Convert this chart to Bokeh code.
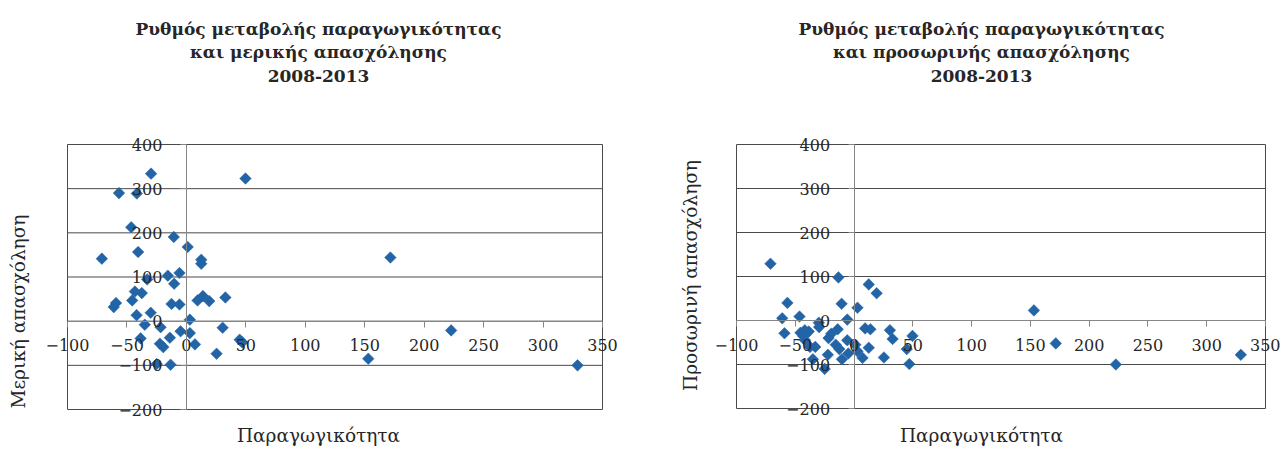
import numpy as np
from bokeh.plotting import figure
from bokeh.models import Range1d, SingleIntervalTicker, Label
from bokeh.layouts import row
from bokeh.embed import file_html
from bokeh.resources import INLINE

# Productivity change (x, shared by both charts)
productivity = [-71.1, -61.1, -59.2, -56.7, -46.4, -45.6, -43.3, -41.9, -41.7, -40.6,
                -38.5, -37.5, -35.0, -33.0, -30.0, -29.7, -25.0, -22.3, -21.7, -19.4,
                -15.6, -13.9, -13.3, -12.5, -10.6, -10.3, -5.8, -5.8, -4.9, 1.1,
                2.9, 2.9, 7.2, 9.4, 12.5, 12.5, 13.9, 19.2, 25.4, 30.5,
                32.8, 44.8, 47.0, 49.7, 153.0, 171.6, 222.7, 329.0]
# Part-time employment change (left chart)
part_time = [141.5, 31.8, 41.0, 290.0, 212.6, 47.0, 67.0, 13.6, 289.0, 156.6,
             -39.0, 63.5, -8.0, 94.5, 19.0, 334.0, -97.0, -51.0, -13.6, -58.7,
             103.0, -37.4, -98.6, 39.0, 190.6, 84.7, 109.0, 37.8, -23.0, 168.0,
             3.4, -27.0, -52.6, 47.0, 139.0, 130.0, 56.7, 45.4, -73.7, -14.8,
             53.7, -42.0, -48.0, 323.0, -85.0, 144.0, -20.9, -100.0]
# Temporary employment change (right chart)
temporary = [129.0, 5.0, -29.0, 40.0, 9.0, -28.0, -35.0, -22.0, -45.0, -30.0,
             -25.0, -60.0, -88.0, -60.0, -5.0, -15.0, -110.0, -78.0, -40.0, -30.0,
             -55.0, -20.0, 98.0, -65.0, 38.0, -88.0, 2.0, -45.0, -75.0, -55.0,
             29.0, -70.0, -85.0, -18.0, 82.0, -62.0, -20.0, 62.0, -84.0, -22.0,
             -42.0, -65.0, -99.0, -35.0, 23.0, -52.0, -100.0, -78.0]

x_limits = [-100, 350]
y_limits = [-200, 400]
x_step = 50
y_step = 100
y_grid_values = list(range(y_limits[0], y_limits[1] + 1, y_step))

title_left = "Ρυθμός μεταβολής παραγωγικότητας\nκαι μερικής απασχόλησης\n2008-2013"
title_right = "Ρυθμός μεταβολής παραγωγικότητας\nκαι προσωρινής απασχόλησης\n2008-2013"
ylabel_left = "Μερική απασχόληση"
ylabel_right = "Προσωρινή απασχόληση"
xlabel = "Παραγωγικότητα"

BLUE = "#2264A6"
FONT = "DejaVu Serif"
TXT = "#262626"
GRID = "#4a4a4a"
AXIS = "#868686"
H = 448


def make_chart(ys, title, ylab, width, area, text_x, ylab_pos):
    # area: plot-area box in figure pixels (left, right, top, bottom)
    a_l, a_r, a_t, a_b = area
    kx = (a_r - a_l) / (x_limits[1] - x_limits[0])
    ky = (a_b - a_t) / (y_limits[1] - y_limits[0])
    xr = Range1d(x_limits[0] - a_l / kx, x_limits[1] + (width - a_r) / kx)
    yr = Range1d(y_limits[0] - (H - a_b) / ky, y_limits[1] + a_t / ky)

    p = figure(width=width, height=H, title=None, x_range=xr, y_range=yr,
               output_backend="svg", toolbar_location=None,
               min_border_left=0, min_border_right=0,
               min_border_top=0, min_border_bottom=0)
    p.background_fill_color = "white"
    p.border_fill_color = "white"
    p.outline_line_color = None
    p.xgrid.visible = False
    p.ygrid.visible = False

    # horizontal gridlines and plot-area box
    n = len(y_grid_values)
    p.segment(x0=[x_limits[0]] * n, x1=[x_limits[1]] * n,
              y0=y_grid_values, y1=y_grid_values,
              line_color=GRID, line_width=1)
    p.segment(x0=x_limits, x1=x_limits, y0=[y_limits[0]] * 2, y1=[y_limits[1]] * 2,
              line_color=GRID, line_width=1)

    for ax, step, bounds in ((p.xaxis, x_step, x_limits), (p.yaxis, y_step, y_limits)):
        ax.ticker = SingleIntervalTicker(interval=step)
        ax.fixed_location = 0
        ax.bounds = tuple(bounds)
        ax.axis_line_color = AXIS
        ax.major_tick_line_color = AXIS
        ax.major_tick_in = 0
        ax.major_tick_out = 6
        ax.minor_tick_line_color = None
        ax.major_label_text_font = FONT
        ax.major_label_text_font_size = "16px"
        ax.major_label_text_color = TXT
    p.xaxis.major_label_standoff = 12
    p.yaxis.major_label_standoff = 18

    p.scatter(productivity, ys, marker="square", angle=np.pi / 4, size=8.2,
              fill_color=BLUE, line_color=BLUE, line_width=0.5)

    p.add_layout(Label(x=text_x, y=H - 52, x_units="screen", y_units="screen",
                       text=title, text_align="center", text_baseline="middle",
                       text_font=FONT, text_font_style="bold", text_font_size="17px",
                       text_line_height=1.19, text_color=TXT))
    p.add_layout(Label(x=text_x, y=3, x_units="screen", y_units="screen",
                       text=xlabel, text_align="center", text_baseline="bottom",
                       text_font=FONT, text_font_size="18.5px", text_color=TXT))
    p.add_layout(Label(x=ylab_pos[0], y=H - ylab_pos[1], x_units="screen", y_units="screen",
                       text=ylab, angle=np.pi / 2, text_align="center",
                       text_baseline="middle",
                       text_font=FONT, text_font_size="18.5px", text_color=TXT))
    return p


left = make_chart(part_time, title_left, ylabel_left, 660,
                  (67, 602, 144, 409), 318, (18, 311))
right = make_chart(temporary, title_right, ylabel_right, 620,
                   (76, 605, 144, 408), 321, (30, 275))

layout = row(left, right)
open("out.html", "w").write(file_html(layout, INLINE))
